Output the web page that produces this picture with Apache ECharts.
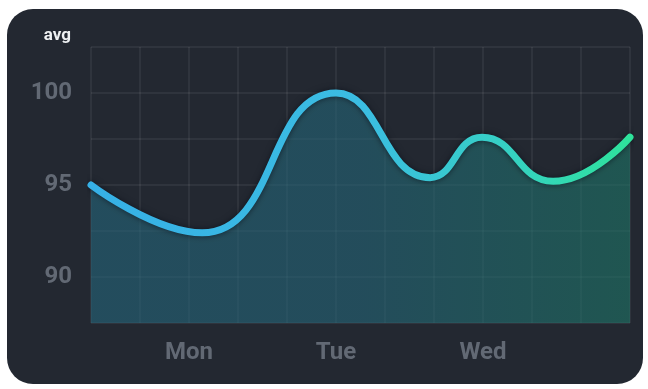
<!DOCTYPE html>
<html>
<head>
<meta charset="utf-8">
<script src="https://cdn.jsdelivr.net/npm/echarts@6/dist/echarts.min.js"></script>
<style>
html,body{margin:0;padding:0;background:#ffffff;}
#card{position:absolute;left:7px;top:9px;width:636px;height:375px;border-radius:26px;background:#232831;}
#chart{position:absolute;left:0;top:0;width:648px;height:389px;}
</style>
</head>
<body>
<div id="card"></div>
<div id="chart"></div>
<script>
// x positions (hour slots, 0..11) and labels shown on the x axis
var dayLabels = ['Mon', 'Tue', 'Wed'];
var dayPositions = [2, 5, 8];
// series: x positions and values read at the curve's turning points
var avgX = [0, 2.27, 5.0, 6.92, 7.98, 9.43, 11];
var avgValues = [95.0, 92.4, 100.0, 95.4, 97.6, 95.2, 97.6];
// y tick labels shown
var yTickLabels = [90, 95, 100];
var yAxisName = 'avg';

var seriesData = avgX.map(function (x, i) { return [x, avgValues[i]]; });

var chart = echarts.init(document.getElementById('chart'), null, {renderer: 'canvas'});
chart.setOption({
  backgroundColor: 'transparent',
  animation: false,
  grid: {left: 91, right: 18, top: 47, bottom: 66},
  xAxis: {
    type: 'value',
    min: 0, max: 11, interval: 1,
    axisLine: {show: false},
    axisTick: {show: false},
    axisLabel: {
      margin: 18, color: '#626974',
      fontFamily: 'Roboto', fontWeight: 'bold', fontSize: 24,
      formatter: function (v) {
        var i = dayPositions.indexOf(v);
        return i >= 0 ? dayLabels[i] : '';
      }
    },
    splitLine: {show: true, lineStyle: {color: 'rgba(255,255,255,0.08)', width: 1.5}}
  },
  yAxis: {
    type: 'value',
    min: 87.5, max: 102.5, interval: 2.5,
    name: yAxisName,
    nameLocation: 'end',
    nameGap: 3,
    nameTextStyle: {
      color: '#eef0f2', fontFamily: 'Roboto', fontWeight: 'bold', fontSize: 17,
      align: 'right', padding: [0, 20, 0, 0]
    },
    axisLine: {show: false},
    axisTick: {show: false},
    axisLabel: {
      margin: 19, color: '#626974',
      fontFamily: 'Roboto', fontWeight: 'bold', fontSize: 24,
      formatter: function (v) { return yTickLabels.indexOf(v) >= 0 ? String(v) : ''; }
    },
    splitLine: {show: true, lineStyle: {color: 'rgba(255,255,255,0.08)', width: 1.5}}
  },
  series: [{
    type: 'line',
    data: seriesData,
    smooth: 0.5,
    symbol: 'none',
    lineStyle: {
      width: 7,
      cap: 'round',
      color: new echarts.graphic.LinearGradient(0, 0, 1, 0, [
        {offset: 0, color: '#36b0e6'},
        {offset: 0.5, color: '#3bbde2'},
        {offset: 0.75, color: '#36cfc6'},
        {offset: 1, color: '#2ee39a'}
      ]),
      shadowColor: 'rgba(10,15,25,0.7)',
      shadowBlur: 6
    },
    areaStyle: {
      color: new echarts.graphic.LinearGradient(0, 0, 1, 0, [
        {offset: 0, color: 'rgba(37,99,119,0.9)'},
        {offset: 0.5, color: 'rgba(37,99,116,0.9)'},
        {offset: 1, color: 'rgba(31,114,100,0.9)'}
      ])
    }
  }]
});
</script>
</body>
</html>
